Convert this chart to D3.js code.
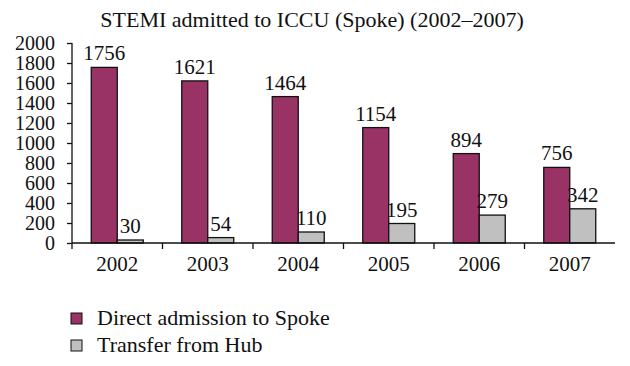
<!DOCTYPE html>
<html>
<head>
<meta charset="utf-8">
<script src="https://cdn.jsdelivr.net/npm/d3@7"></script>
<style>
  body { margin: 0; background: #fff; }
  svg { display: block; }
  text { font-family: "Liberation Serif", "Times New Roman", serif; fill: #111; }
</style>
</head>
<body>
<div id="chart"></div>
<script>
var years = ["2002", "2003", "2004", "2005", "2006", "2007"];
var direct = [1756, 1621, 1464, 1154, 894, 756];
var transfer = [30, 54, 110, 195, 279, 342];
var seriesNames = ["Direct admission to Spoke", "Transfer from Hub"];
var seriesColors = ["#993366", "#c0c0c0"];
var yTicks = [0, 200, 400, 600, 800, 1000, 1200, 1400, 1600, 1800, 2000];

var width = 630, height = 366;
var margin = {top: 43, left: 72, right: 15, bottom: 123};

var svg = d3.select("#chart").append("svg")
    .attr("width", width)
    .attr("height", height);

svg.append("text")
    .attr("x", 312)
    .attr("y", 27)
    .attr("text-anchor", "middle")
    .style("font-size", "22px")
    .text("STEMI admitted to ICCU (Spoke) (2002\u20132007)");

var x = d3.scaleBand()
    .domain(years)
    .range([margin.left, width - margin.right]);

var x1 = d3.scaleBand()
    .domain([0, 1])
    .range([0, 52]);

var y = d3.scaleLinear()
    .domain([0, 2000])
    .range([height - margin.bottom, margin.top]);

var rows = years.map(function(d, i){
    return {year: d, values: [direct[i], transfer[i]]};
});

var g = svg.selectAll("g.year")
    .data(rows)
    .enter().append("g")
    .attr("class", "year")
    .attr("transform", function(d){ return "translate(" + (x(d.year) + x.bandwidth() / 2 - 26) + ",0)"; });

g.selectAll("rect")
    .data(function(d){ return d.values; })
    .enter().append("rect")
    .attr("x", function(d, i){ return x1(i); })
    .attr("y", function(d){ return y(d); })
    .attr("width", x1.bandwidth())
    .attr("height", function(d){ return y(0) - y(d); })
    .attr("fill", function(d, i){ return seriesColors[i]; })
    .attr("stroke", "#111")
    .attr("stroke-width", 1.3);

g.selectAll("text.val")
    .data(function(d){ return d.values; })
    .enter().append("text")
    .attr("class", "val")
    .attr("x", function(d, i){ return x1(i) + x1.bandwidth() / 2; })
    .attr("y", function(d){ return y(d) - 7; })
    .attr("text-anchor", "middle")
    .style("font-size", "21px")
    .text(function(d){ return d; });

// y axis
var yAxis = svg.append("g")
    .attr("transform", "translate(" + margin.left + ",0)")
    .call(d3.axisLeft(y).tickValues(yTicks).tickFormat(d3.format("d")).tickSize(5).tickPadding(12));
yAxis.selectAll("text").style("font-size", "20px").attr("fill", "#111");
yAxis.selectAll("line, path").attr("stroke", "#111").attr("stroke-width", 1.3);
yAxis.select(".domain").attr("d", "M0," + y(2000) + "V" + y(0));

// x axis
var xAxis = svg.append("g")
    .attr("transform", "translate(0," + y(0) + ")")
    .call(d3.axisBottom(x).tickSize(0).tickPadding(13));
xAxis.selectAll("text").style("font-size", "21px").attr("fill", "#111");
xAxis.select(".domain").attr("d", "M" + margin.left + ",0H" + (width - margin.right))
    .attr("stroke", "#111").attr("stroke-width", 1.3);
xAxis.selectAll(".sep")
    .data(years)
    .enter().append("line")
    .attr("class", "sep")
    .attr("x1", function(d){ return x(d); })
    .attr("x2", function(d){ return x(d); })
    .attr("y1", 0).attr("y2", 6)
    .attr("stroke", "#111").attr("stroke-width", 1.3);

// legend
var legend = svg.selectAll("g.legend")
    .data(seriesNames)
    .enter().append("g")
    .attr("class", "legend")
    .attr("transform", function(d, i){ return "translate(71," + (313 + i * 27) + ")"; });
legend.append("rect")
    .attr("width", 11).attr("height", 11)
    .attr("fill", function(d, i){ return seriesColors[i]; })
    .attr("stroke", "#111").attr("stroke-width", 1);
legend.append("text")
    .attr("x", 26).attr("y", 12)
    .style("font-size", "22px")
    .text(function(d){ return d; });
</script>
</body>
</html>
